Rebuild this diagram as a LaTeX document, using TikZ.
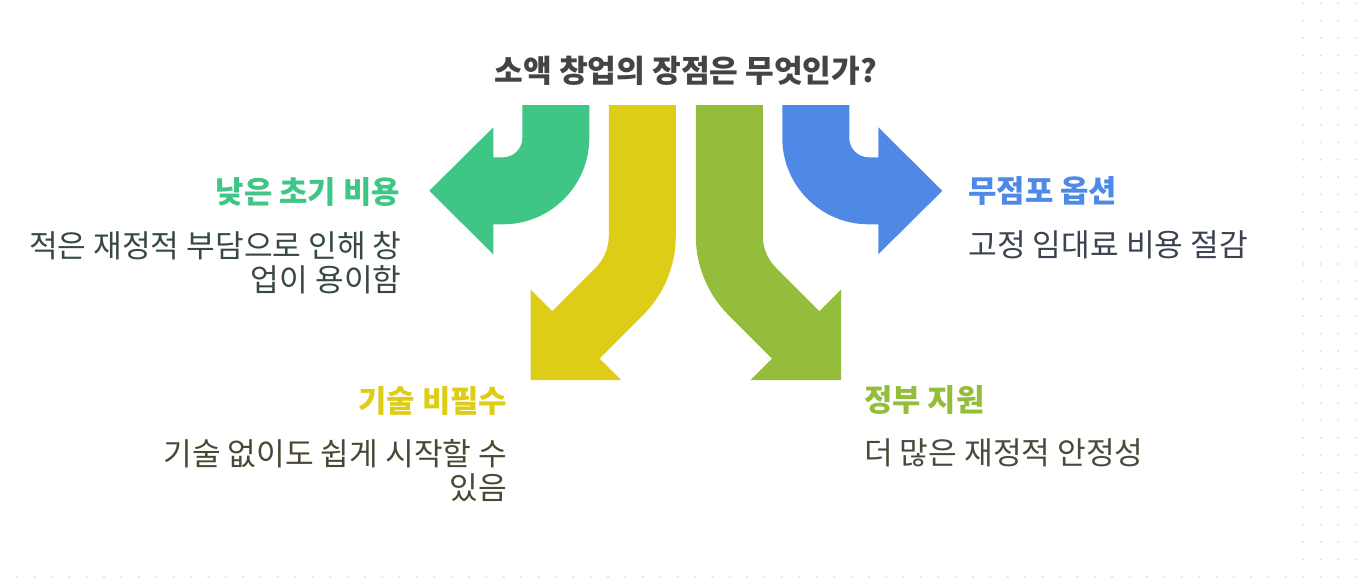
\documentclass[tikz,border=0pt]{standalone}
\usepackage{fontspec}
\setmainfont{Noto Sans CJK KR}
\usepackage{tikz}
\usetikzlibrary{positioning}
\definecolor{greenArrow}{RGB}{63,197,134}
\definecolor{yellowArrow}{RGB}{222,205,23}
\definecolor{oliveArrow}{RGB}{147,189,58}
\definecolor{blueArrow}{RGB}{78,137,229}
\definecolor{greenBody}{RGB}{56,74,64}
\definecolor{yellowBody}{RGB}{74,71,51}
\definecolor{oliveBody}{RGB}{71,75,58}
\definecolor{blueBody}{RGB}{59,66,80}
\definecolor{titleGray}{RGB}{68,68,68}
\definecolor{dotGray}{RGB}{226,226,226}
\tikzset{
  grid_dot/.style={fill=dotGray},
  green_arrow/.style={fill=greenArrow},
  yellow_arrow/.style={fill=yellowArrow},
  olive_arrow/.style={fill=oliveArrow},
  blue_arrow/.style={fill=blueArrow},
  title_text/.style={font=\fontsize{31.2}{36}\selectfont\bfseries, text=titleGray, inner sep=0pt},
  head_text/.style={font=\fontsize{30.8}{34}\selectfont\bfseries, inner sep=0pt},
  body_text/.style={font=\fontsize{31.2}{34}\selectfont, inner sep=0pt}
}

\begin{document}
\begin{tikzpicture}[x=1pt, y=-1pt]
  \useasboundingbox (0,0) rectangle (1360,586);

  % dotted background
  \foreach \row in {0,...,33}
    \foreach \col in {0,...,3}
      \fill[grid_dot] (1303.3+17.38*\col, 3.3+17.38*\row) circle (1.2);
  \foreach \col in {-74,...,-1}
    \fill[grid_dot] (1303.3+17.38*\col, 576.8) circle (1.2);

  \begin{scope}[shift={(685.8,0)}]
    \fill[green_arrow] (-163.5,105) -- (-96.5,105) -- (-96.5,138)
      arc[start angle=0, end angle=90, radius=86.3] -- (-192.5,224.3) -- (-192.5,254.3)
      -- (-256.5,190.8) -- (-192.5,127.3) -- (-192.5,157.3) -- (-182.8,157.3)
      arc[start angle=90, end angle=0, radius=19.3] -- cycle;
    \fill[yellow_arrow] (-77,105) -- (-10,105) -- (-10,236)
      arc[start angle=0, end angle=45, radius=112] -- (-86.2,358.6) -- (-64.6,380.2)
      -- (-155.2,380.2) -- (-155.2,289.6) -- (-133.6,311.2) -- (-90.2,267.8)
      arc[start angle=45, end angle=0, radius=45] -- cycle;
  \end{scope}
  \begin{scope}[shift={(685.8,0)}, xscale=-1]
    \fill[blue_arrow] (-163.5,105) -- (-96.5,105) -- (-96.5,138)
      arc[start angle=0, end angle=90, radius=86.3] -- (-192.5,224.3) -- (-192.5,254.3)
      -- (-256.5,190.8) -- (-192.5,127.3) -- (-192.5,157.3) -- (-182.8,157.3)
      arc[start angle=90, end angle=0, radius=19.3] -- cycle;
    \fill[olive_arrow] (-77,105) -- (-10,105) -- (-10,236)
      arc[start angle=0, end angle=45, radius=112] -- (-86.2,358.6) -- (-64.6,380.2)
      -- (-155.2,380.2) -- (-155.2,289.6) -- (-133.6,311.2) -- (-90.2,267.8)
      arc[start angle=45, end angle=0, radius=45] -- cycle;
  \end{scope}

  \node[title_text, anchor=north] (title) at (685.8,55.5) {소액 창업의 장점은 무엇인가?};

  \node[head_text, text=greenArrow, anchor=north east] (cost_head) at (400,177.7) {낮은 초기 비용};
  \node[body_text, text=greenBody, align=right, anchor=north east] (cost_body) at (401.7,231) {적은 재정적 부담으로 인해 창\\업이 용이함};

  \node[head_text, text=yellowArrow, anchor=north east] (skill_head) at (507.3,386.7) {기술 비필수};
  \node[body_text, text=yellowBody, align=right, anchor=north east] (skill_body) at (507.3,439) {기술 없이도 쉽게 시작할 수\\있음};

  \node[head_text, text=blueArrow, anchor=north west] (store_head) at (968.3,176) {무점포 옵션};
  \node[body_text, text=blueBody, anchor=north west] (store_body) at (968.3,230) {고정 임대료 비용 절감};

  \node[head_text, text=oliveArrow, anchor=north west] (gov_head) at (864,385) {정부 지원};
  \node[body_text, text=oliveBody, anchor=north west] (gov_body) at (864,438.3) {더 많은 재정적 안정성};
\end{tikzpicture}
\end{document}
